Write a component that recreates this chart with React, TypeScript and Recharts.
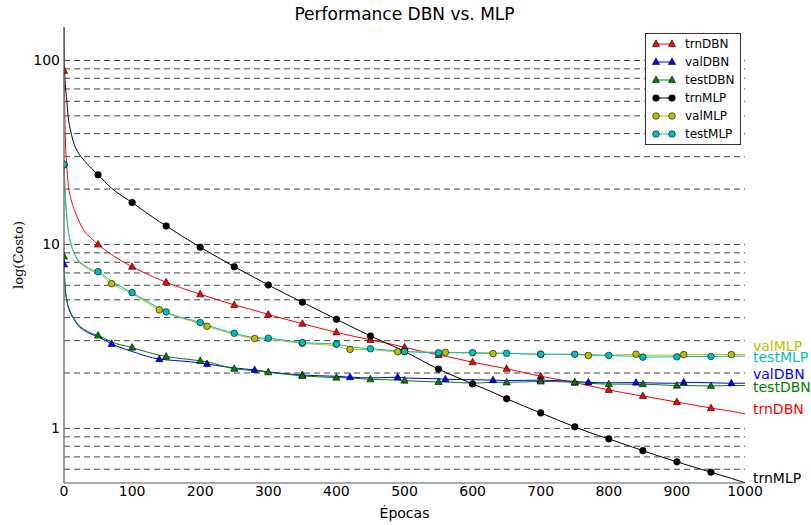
import React from "react";
import {LineChart, Line, XAxis, YAxis, ReferenceLine} from "recharts";

// epocas donde se leyeron los valores (incluye las marcas cada 50 y cada 70)
const EPOCHS = [0, 1, 2, 4, 6, 10, 15, 20, 30, 40, 50, 70, 100, 140, 150, 200, 210, 250, 280, 300, 350, 400, 420, 450, 490,
    500, 550, 560, 600, 630, 650, 700, 750, 770, 800, 840, 850, 900, 910, 950, 980, 1000];

const TRN_DBN = [88, 55, 38, 27, 21.5, 17.8, 15.5, 13.9, 11.8, 10.8, 10.0, 8.8, 7.57, 6.45, 6.23, 5.36, 5.22, 4.69, 4.38, 4.16,
    3.71, 3.33, 3.2, 3.03, 2.82, 2.76, 2.51, 2.47, 2.29, 2.18, 2.11, 1.92, 1.775, 1.71, 1.62, 1.52, 1.5, 1.39, 1.37, 1.29, 1.24, 1.2];
const VAL_DBN = [7.8, 6.3, 5.6, 5.0, 4.6, 4.2, 3.9, 3.65, 3.4, 3.25, 3.15, 2.88, 2.62, 2.38, 2.36, 2.27, 2.24, 2.13, 2.08, 2.03,
    1.95, 1.92, 1.9, 1.88, 1.9, 1.88, 1.86, 1.85, 1.84, 1.83, 1.82, 1.83, 1.8, 1.78, 1.77, 1.775, 1.77, 1.76, 1.78, 1.77, 1.76, 1.76];
const TEST_DBN = [8.6, 6.5, 5.7, 5.0, 4.65, 4.25, 3.95, 3.7, 3.45, 3.3, 3.2, 2.95, 2.75, 2.5, 2.46, 2.33, 2.3, 2.11, 2.06, 2.02,
    1.93, 1.89, 1.88, 1.85, 1.83, 1.82, 1.79, 1.79, 1.76, 1.78, 1.78, 1.8, 1.78, 1.76, 1.74, 1.74, 1.74, 1.71, 1.71, 1.7, 1.71, 1.71];
const TRN_MLP = [200, 88, 74, 61, 50, 41, 35, 32, 28.5, 26, 23.9, 20.2, 16.9, 13.3, 12.6, 9.66, 9.2, 7.57, 6.6, 6.02,
    4.85, 3.92, 3.6, 3.18, 2.73, 2.62, 2.1, 2.02, 1.745, 1.57, 1.45, 1.214, 1.02, 0.955, 0.877, 0.78, 0.757, 0.658, 0.641, 0.578, 0.535, 0.506];
const VAL_MLP = [27, 22, 18, 14.2, 12, 10, 8.9, 8.2, 7.6, 7.2, 7.0, 6.12, 5.4, 4.41, 4.25, 3.7, 3.59, 3.25, 3.08, 3.05,
    2.9, 2.8, 2.69, 2.68, 2.61, 2.61, 2.6, 2.59, 2.57, 2.55, 2.56, 2.53, 2.52, 2.49, 2.5, 2.53, 2.5, 2.5, 2.52, 2.52, 2.52, 2.52];
const TEST_MLP = [27.3, 22, 18.2, 14.3, 12.2, 10.2, 9.0, 8.3, 7.7, 7.3, 7.11, 6.3, 5.47, 4.5, 4.3, 3.76, 3.65, 3.29, 3.12, 3.09,
    2.93, 2.87, 2.78, 2.71, 2.64, 2.62, 2.58, 2.58, 2.58, 2.57, 2.56, 2.53, 2.53, 2.52, 2.49, 2.46, 2.44, 2.45, 2.46, 2.46, 2.47, 2.47];

const X_TICKS = [0, 100, 200, 300, 400, 500, 600, 700, 800, 900, 1000];
const Y_TICKS = [1, 10, 100];
const Y_GRID = [0.6, 0.7, 0.8, 0.9, 1, 2, 3, 4, 5, 6, 7, 8, 9, 10, 20, 30, 40, 50, 60, 70, 80, 90, 100];
const Y_DOMAIN = [0.505, 152];

const SERIES = [
    {key: "trnDBN", color: "#ff0000", shape: "tri", every: 50, dy: -5},
    {key: "valDBN", color: "#0000ff", shape: "tri", every: 70, dy: -9},
    {key: "testDBN", color: "#008000", shape: "tri", every: 50, dy: 1},
    {key: "trnMLP", color: "#000000", shape: "circ", every: 50, dy: -5},
    {key: "valMLP", color: "#bfbf00", shape: "circ", every: 70, dy: -9},
    {key: "testMLP", color: "#00bfbf", shape: "circ", every: 50, dy: 1},
];

const data = EPOCHS.map((e, i) => ({
    epoca: e,
    trnDBN: TRN_DBN[i],
    valDBN: VAL_DBN[i],
    testDBN: TEST_DBN[i],
    trnMLP: TRN_MLP[i],
    valMLP: VAL_MLP[i],
    testMLP: TEST_MLP[i],
}));

const FONT = "'DejaVu Sans', sans-serif";
const MARGIN = {top: 27, right: 66, bottom: 12, left: 14};
const Y_AXIS_W = 50;
const W = 811;
const H = 525;
const X_AXIS_H = 30;

const Marker = ({shape, x, y, color}: any) => {
    if (shape === "tri") {
        return <polygon points={`${x},${y - 4} ${x - 3.6},${y + 2.6} ${x + 3.6},${y + 2.6}`}
                        fill={color} stroke="#000" strokeWidth={0.6}/>;
    }
    return <circle cx={x} cy={y} r={3.3} fill={color} stroke="#000" strokeWidth={0.6}/>;
};

// las marcas se recortan al area del grafico, como en matplotlib
const plotLeft = MARGIN.left + Y_AXIS_W;
const plotTop = MARGIN.top;
const plotW = W - plotLeft - MARGIN.right;
const plotH = H - MARGIN.top - MARGIN.bottom - X_AXIS_H;

const makeDot = (s: any) => (props: any) => {
    const {cx, cy, payload, index} = props;
    const e = payload.epoca;
    const v = payload[s.key];
    if (cx == null || cy == null || e >= 1000 || e % s.every !== 0 || v > Y_DOMAIN[1]) {
        return <g key={`d-${s.key}-${index}`}/>;
    }
    const id = `clip-${s.key}-${index}`;
    return (
        <g key={`d-${s.key}-${index}`}>
            <clipPath id={id}>
                <rect x={plotLeft} y={plotTop} width={plotW} height={plotH}/>
            </clipPath>
            <g clipPath={`url(#${id})`}>
                <Marker shape={s.shape} x={cx} y={cy} color={s.color}/>
            </g>
        </g>
    );
};

const makeEndLabel = (s: any) => (props: any) => {
    const {x, y, index} = props;
    if (index !== EPOCHS.length - 1) return <g key={`l-${s.key}-${index}`}/>;
    return (
        <text key={`l-${s.key}-${index}`} x={x + 8} y={y + s.dy} fill={s.color} fontSize={14}
              fontFamily={FONT} dominantBaseline="central">
            {s.key}
        </text>
    );
};

const LegendBox = () => (
    <div style={{
        position: "absolute", left: 645, top: 33, width: 94, height: 110,
        border: "1px solid #333", background: "#fff", fontFamily: FONT, fontSize: 12
    }}>
        {SERIES.map((s, i) => (
            <div key={s.key} style={{position: "absolute", left: 0, top: 1 + i * 18, height: 18, width: 94}}>
                <svg width={34} height={18} style={{position: "absolute", left: 0, top: 0}}>
                    <line x1={10} y1={9} x2={26} y2={9} stroke={s.color} strokeWidth={1}/>
                    <Marker shape={s.shape} x={10} y={9} color={s.color}/>
                    <Marker shape={s.shape} x={26} y={9} color={s.color}/>
                </svg>
                <span style={{position: "absolute", left: 39, top: 1, lineHeight: "16px"}}>{s.key}</span>
            </div>
        ))}
    </div>
);

const App = () => {
    return (
        <div style={{position: "absolute", left: 0, top: 0, width: W, height: H, background: "#fff"}}>
            <div style={{
                position: "absolute", left: 64, width: 681, top: 4, textAlign: "center",
                fontFamily: FONT, fontSize: 17, lineHeight: "20px"
            }}>
                Performance DBN vs. MLP
            </div>
            <LineChart width={W} height={H} data={data} margin={MARGIN}>
                <XAxis dataKey="epoca" type="number" domain={[0, 1000]} ticks={X_TICKS} interval={0}
                       height={X_AXIS_H} tickLine={false} tickSize={0} tickMargin={3} stroke="#555"
                       tick={{fill: "#000", fontSize: 14, fontFamily: FONT}}/>
                <YAxis scale="log" domain={Y_DOMAIN} allowDataOverflow ticks={Y_TICKS} interval={0}
                       width={Y_AXIS_W} tickLine={false} tickSize={0} tickMargin={4} stroke="#777" strokeWidth={1.5}
                       tick={{fill: "#000", fontSize: 14, fontFamily: FONT}}/>
                {Y_GRID.map((g) => (
                    <ReferenceLine key={`g-${g}`} y={g} stroke="#444" strokeDasharray="6 4"/>
                ))}
                {SERIES.map((s) => (
                    <Line key={s.key} dataKey={s.key} type="monotone" stroke={s.color} strokeWidth={1}
                          dot={makeDot(s)} activeDot={false} label={makeEndLabel(s)}
                          isAnimationActive={false}/>
                ))}
            </LineChart>
            <div style={{
                position: "absolute", left: 18, top: 255, transform: "translate(-50%, -50%) rotate(-90deg)",
                fontFamily: "'DejaVu Serif', serif", fontSize: 13, whiteSpace: "nowrap"
            }}>
                log(Costo)
            </div>
            <div style={{
                position: "absolute", left: 64, width: 681, top: 504, textAlign: "center",
                fontFamily: FONT, fontSize: 14, lineHeight: "18px"
            }}>
                Épocas
            </div>
            <LegendBox/>
        </div>
    );
};

export default App;
